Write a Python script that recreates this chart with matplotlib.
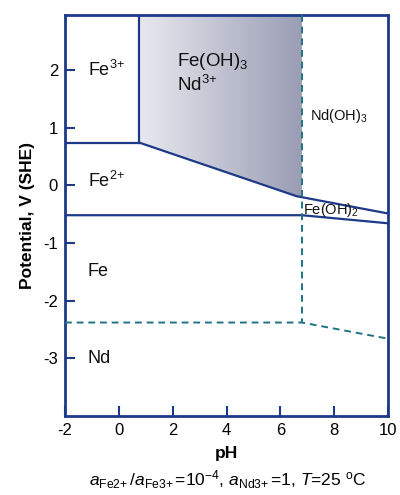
import numpy as np
import matplotlib
matplotlib.use("Agg")
import matplotlib.pyplot as plt
from matplotlib.patches import Polygon
from matplotlib.colors import LinearSegmentedColormap

plt.rcParams['font.family'] = ['Liberation Sans', 'DejaVu Sans']
plt.rcParams['mathtext.fontset'] = 'custom'
plt.rcParams['mathtext.rm'] = 'Liberation Sans'
plt.rcParams['mathtext.it'] = 'Liberation Sans:italic'
plt.rcParams['mathtext.bf'] = 'Liberation Sans:bold'

# ---- data (pH, potential V) ----
fe3_fe2_pH = [-2, 0.75]
fe3_fe2_V = [0.74, 0.74]
fe3_vert_pH = [0.75, 0.75]
fe3_vert_V = [0.74, 2.95]
feoh3_pH = [0.75, 6.6, 10]
feoh3_V = [0.74, -0.19, -0.49]
fe2_fe_pH = [-2, 6.8, 10]
fe2_fe_V = [-0.52, -0.52, -0.66]
nd_vert_pH = [6.8, 6.8]
nd_vert_V = [2.95, -2.38]
nd_pH = [-2, 6.8, 10]
nd_V = [-2.38, -2.38, -2.66]

shade_pH = [0.75, 6.8, 6.8, 6.6, 0.75]
shade_V = [2.95, 2.95, -0.21, -0.19, 0.74]

labels = ["Fe$^{3{+}}$", "Fe$^{2{+}}$", "Fe", "Nd", "Fe(OH)$_3$", "Nd$^{3{+}}$", "Nd(OH)$_3$", "Fe(OH)$_2$"]
label_pH = [-1.15, -1.15, -1.15, -1.15, 2.15, 2.15, 7.1, 6.85]
label_V = [2.0, 0.08, -1.5, -3.0, 2.14, 1.74, 1.2, -0.43]
label_size = [13, 13, 13, 13, 13.5, 13.5, 10.5, 10.5]

xticks = [-2, 0, 2, 4, 6, 8, 10]
yticks = [-3, -2, -1, 0, 1, 2]

navy = '#1c3a87'
teal = '#1f7385'

fig = plt.figure(figsize=(4.0, 4.95), dpi=100)
ax = fig.add_axes([0.1625, 0.1596, 0.8075, 0.8101])
ax.set_xlim(-2, 10)
ax.set_ylim(-4.0, 2.95)

# gradient shading
poly = Polygon(list(zip(shade_pH, shade_V)), closed=True, facecolor='none', edgecolor='none')
ax.add_patch(poly)
grad = np.linspace(0, 1, 256).reshape(1, -1)
cmap = LinearSegmentedColormap.from_list('g', ['#e8e9ef', '#9a9db4'])
im = ax.imshow(grad, extent=[min(shade_pH), max(shade_pH), min(shade_V), max(shade_V)],
               aspect='auto', cmap=cmap, origin='lower', zorder=1)
im.set_clip_path(poly)

lw = 1.6
ax.plot(fe3_fe2_pH, fe3_fe2_V, color=navy, lw=lw, zorder=3)
ax.plot(fe3_vert_pH, fe3_vert_V, color=navy, lw=lw, zorder=3)
ax.plot(feoh3_pH, feoh3_V, color=navy, lw=lw, zorder=3)
ax.plot(fe2_fe_pH, fe2_fe_V, color=navy, lw=lw, zorder=3)
ax.plot(nd_vert_pH, nd_vert_V, color=teal, lw=1.4, ls=(0, (3.5, 2.5)), zorder=3)
ax.plot(nd_pH, nd_V, color=teal, lw=1.4, ls=(0, (3.5, 2.5)), zorder=3)

for t, x, y, s in zip(labels, label_pH, label_V, label_size):
    ax.text(x, y, t, fontsize=s, ha='left', va='center', color='#111111', zorder=4)

for sp in ax.spines.values():
    sp.set_color(navy)
    sp.set_linewidth(2)

ax.set_xticks(xticks)
ax.set_yticks(yticks)
ax.tick_params(direction='in', length=7, width=1.5, color=navy, labelsize=12, pad=5)
ax.set_xticklabels([str(v) for v in xticks])
ax.set_yticklabels([str(v) for v in yticks])

ax.set_xlabel('pH', fontsize=12.5, fontweight='bold', labelpad=6)
ax.set_ylabel('Potential, V (SHE)', fontsize=12.5, fontweight='bold', labelpad=6)

fig.text(0.57, 0.03,
         r"$a_{\mathrm{Fe2{+}}}\,$/$a_{\mathrm{Fe3{+}}}\,$=10$^{\mathrm{-4}}$, $a_{\mathrm{Nd3{+}}}\,$=1, $T$=25 $^{\mathrm{o}}$C",
         ha='center', va='center', fontsize=12.5)

fig.savefig('out.png', dpi=100)
